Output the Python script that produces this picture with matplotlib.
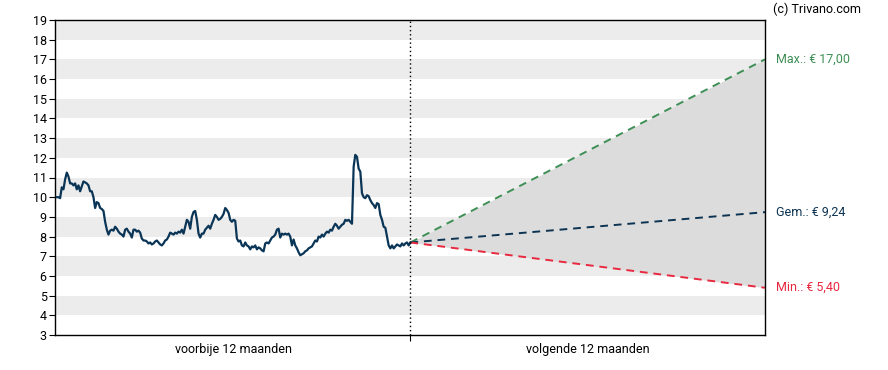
import numpy as np
import matplotlib
matplotlib.use("Agg")
import matplotlib.pyplot as plt

plt.rcParams['font.family'] = ['Roboto', 'DejaVu Sans']

koers = [10.0, 10.0, 9.95, 10.5, 10.4, 10.9, 11.25, 11.05, 10.7, 10.7, 10.6, 10.7, 10.4, 10.6,
         10.3, 10.55, 10.8, 10.75, 10.7, 10.6, 10.3, 10.3, 10.0, 9.45, 9.75, 9.7, 9.45, 9.4, 9.3,
         8.75, 8.35, 8.1, 8.3, 8.35, 8.3, 8.5, 8.4, 8.25, 8.15, 8.1, 8.0, 8.35, 8.4, 8.25, 8.15,
         7.95, 8.35, 8.35, 8.25, 8.3, 8.2, 7.9, 7.8, 7.8, 7.75, 7.65, 7.7, 7.6, 7.65, 7.75, 7.8,
         7.7, 7.6, 7.55, 7.65, 7.8, 7.85, 8.0, 8.2, 8.15, 8.1, 8.2, 8.15, 8.25, 8.2, 8.35, 8.15,
         8.5, 8.85, 8.75, 8.4, 9.0, 9.25, 9.3, 8.85, 8.15, 7.95, 8.15, 8.15, 8.35, 8.45, 8.55, 8.4,
         8.65, 8.85, 9.1, 9.0, 8.85, 8.9, 9.0, 9.15, 9.45, 9.35, 9.2, 8.85, 8.75, 8.85, 8.8, 7.9,
         7.75, 7.8, 7.55, 7.5, 7.7, 7.55, 7.5, 7.35, 7.5, 7.45, 7.55, 7.35, 7.45, 7.4, 7.3, 7.25,
         7.65, 7.7, 7.65, 7.8, 7.95, 8.0, 8.1, 8.35, 8.4, 7.95, 8.15, 8.1, 8.15, 8.1, 8.15, 8.0,
         7.55, 7.85, 7.55, 7.4, 7.2, 7.05, 7.1, 7.15, 7.25, 7.3, 7.4, 7.45, 7.5, 7.65, 7.8, 7.75,
         8.0, 7.95, 8.1, 8.0, 8.15, 8.25, 8.2, 8.35, 8.3, 8.5, 8.65, 8.55, 8.4, 8.5, 8.6, 8.65,
         8.85, 8.8, 8.85, 8.75, 8.65, 11.55, 12.15, 12.05, 11.45, 11.3, 10.2, 10.0, 9.95, 10.1,
         10.05, 9.85, 9.7, 9.6, 9.45, 9.7, 9.65, 9.1, 8.85, 8.5, 8.45, 8.0, 7.55, 7.4, 7.55, 7.4,
         7.5, 7.6, 7.55, 7.5, 7.65, 7.55, 7.65, 7.7, 7.55, 7.7]

koersdoel_max = 17.00
koersdoel_gem = 9.24
koersdoel_min = 5.40

periodes = ["voorbije 12 maanden", "volgende 12 maanden"]
labels = ["Max.: € 17,00", "Gem.: € 9,24", "Min.: € 5,40"]

groen = "#3d8f55"
blauw = "#0c3352"
rood = "#e8283f"

fig = plt.figure(figsize=(8.88, 3.70), dpi=100)
ax = fig.add_axes([55 / 888, 35 / 370, 710 / 888, 315 / 370])

# grijze banden
for y in range(4, 19, 2):
    ax.axhspan(y, y + 1, color="#ececec", lw=0, zorder=0)

x = np.linspace(0.003, 1, len(koers))
ax.plot(x, koers, color="#0a3556", lw=1.6, zorder=3)

laatste = koers[-1]
xs = [1, 2]
ax.fill_between(xs, [laatste, koersdoel_min], [laatste, koersdoel_max], color="#dcdcdc", lw=0, zorder=1)
ax.plot(xs, [laatste, koersdoel_max], color=groen, ls=(0, (4, 3)), lw=1.4, zorder=2)
ax.plot(xs, [laatste, koersdoel_gem], color=blauw, ls=(0, (4, 3)), lw=1.4, zorder=2)
ax.plot(xs, [laatste, koersdoel_min], color=rood, ls=(0, (4, 3)), lw=1.4, zorder=2)

ax.axvline(1, color="black", ls=(0, (1, 2)), lw=1, zorder=4)

ax.set_xlim(-0.002, 2)
ax.set_ylim(3, 19)
ax.set_yticks(range(3, 20))
ax.set_xticks([1])
ax.set_xticklabels([])
ax.set_xticks([0.5, 1.5], minor=True)
ax.set_xticklabels(periodes, minor=True)
ax.tick_params(axis="x", which="minor", length=0, labelsize=9, pad=6)
ax.tick_params(axis="x", which="major", length=4)
ax.tick_params(axis="y", labelsize=9, length=4, pad=2)
for s in ax.spines.values():
    s.set_linewidth(1)

for val, lab, col in zip([koersdoel_max, koersdoel_gem, koersdoel_min], labels, [groen, blauw, rood]):
    ax.annotate(lab, xy=(2, val), xytext=(8, 0), textcoords="offset points",
                color=col, fontsize=9, va="center", ha="left", annotation_clip=False)

fig.text(773 / 888, 1 - 9 / 370, "(c) Trivano.com", fontsize=9, va="center", ha="left")

fig.savefig("out.png", dpi=100)
